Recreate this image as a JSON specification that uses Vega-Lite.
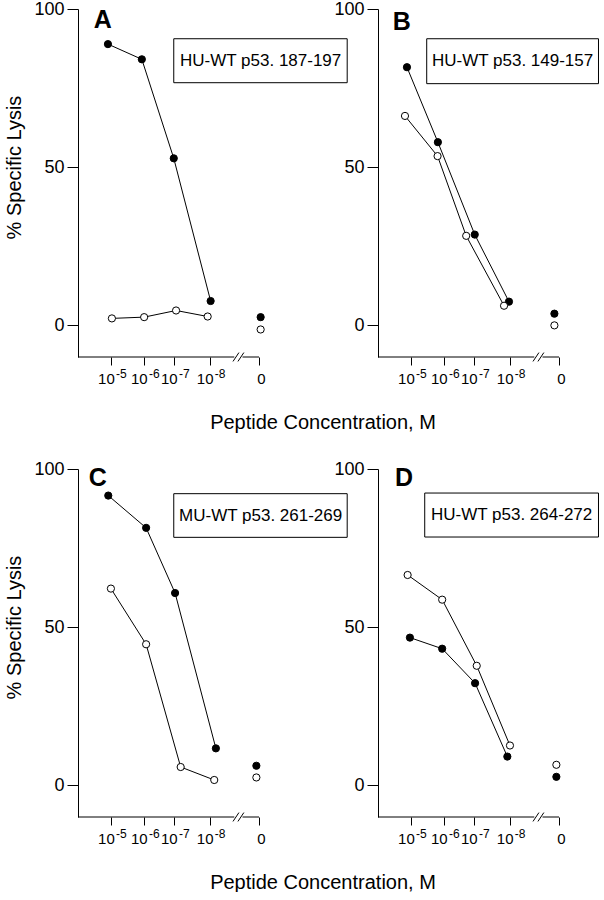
{
  "$schema": "https://vega.github.io/schema/vega-lite/v6.json",
  "padding": {"left": 4, "top": 0, "right": 0, "bottom": 0},
  "background": "white",
  "config": {"view": {"stroke": null}, "font": "Liberation Sans"},
  "datasets": {
    "pts": [
      {"panel": "A", "group": "filled", "dose": "1e-5", "xpos": 4.91, "lysis": 88.9},
      {"panel": "A", "group": "filled", "dose": "1e-6", "xpos": 5.94, "lysis": 84.1},
      {"panel": "A", "group": "filled", "dose": "1e-7", "xpos": 6.91, "lysis": 52.8},
      {"panel": "A", "group": "filled", "dose": "1e-8", "xpos": 8.03, "lysis": 7.7},
      {"panel": "A", "group": "filled", "dose": "0", "xpos": 9.55, "lysis": 2.6},
      {"panel": "A", "group": "open", "dose": "1e-5", "xpos": 5.03, "lysis": 2.2},
      {"panel": "A", "group": "open", "dose": "1e-6", "xpos": 6.01, "lysis": 2.6},
      {"panel": "A", "group": "open", "dose": "1e-7", "xpos": 6.98, "lysis": 4.7},
      {"panel": "A", "group": "open", "dose": "1e-8", "xpos": 7.94, "lysis": 2.8},
      {"panel": "A", "group": "open", "dose": "0", "xpos": 9.55, "lysis": -1.3},
      {"panel": "B", "group": "filled", "dose": "1e-5", "xpos": 4.88, "lysis": 81.6},
      {"panel": "B", "group": "filled", "dose": "1e-6", "xpos": 5.82, "lysis": 57.9},
      {"panel": "B", "group": "filled", "dose": "1e-7", "xpos": 6.94, "lysis": 28.7},
      {"panel": "B", "group": "filled", "dose": "1e-8", "xpos": 7.98, "lysis": 7.5},
      {"panel": "B", "group": "filled", "dose": "0", "xpos": 9.36, "lysis": 3.7},
      {"panel": "B", "group": "open", "dose": "1e-5", "xpos": 4.82, "lysis": 66.2},
      {"panel": "B", "group": "open", "dose": "1e-6", "xpos": 5.81, "lysis": 53.5},
      {"panel": "B", "group": "open", "dose": "1e-7", "xpos": 6.68, "lysis": 28.3},
      {"panel": "B", "group": "open", "dose": "1e-8", "xpos": 7.83, "lysis": 6.2},
      {"panel": "B", "group": "open", "dose": "0", "xpos": 9.36, "lysis": 0},
      {"panel": "C", "group": "filled", "dose": "1e-5", "xpos": 4.92, "lysis": 91.6},
      {"panel": "C", "group": "filled", "dose": "1e-6", "xpos": 6.07, "lysis": 81.4},
      {"panel": "C", "group": "filled", "dose": "1e-7", "xpos": 6.95, "lysis": 60.8},
      {"panel": "C", "group": "filled", "dose": "1e-8", "xpos": 8.19, "lysis": 11.7},
      {"panel": "C", "group": "filled", "dose": "0", "xpos": 9.42, "lysis": 6.2},
      {"panel": "C", "group": "open", "dose": "1e-5", "xpos": 5.0, "lysis": 62.2},
      {"panel": "C", "group": "open", "dose": "1e-6", "xpos": 6.07, "lysis": 44.6},
      {"panel": "C", "group": "open", "dose": "1e-7", "xpos": 7.12, "lysis": 5.8},
      {"panel": "C", "group": "open", "dose": "1e-8", "xpos": 8.14, "lysis": 1.7},
      {"panel": "C", "group": "open", "dose": "0", "xpos": 9.42, "lysis": 2.5},
      {"panel": "D", "group": "open", "dose": "1e-5", "xpos": 4.90, "lysis": 66.5},
      {"panel": "D", "group": "open", "dose": "1e-6", "xpos": 5.95, "lysis": 58.7},
      {"panel": "D", "group": "open", "dose": "1e-7", "xpos": 7.0, "lysis": 37.8},
      {"panel": "D", "group": "open", "dose": "1e-8", "xpos": 8.01, "lysis": 12.6},
      {"panel": "D", "group": "open", "dose": "0", "xpos": 9.42, "lysis": 6.5},
      {"panel": "D", "group": "filled", "dose": "1e-5", "xpos": 4.97, "lysis": 46.7},
      {"panel": "D", "group": "filled", "dose": "1e-6", "xpos": 5.95, "lysis": 43.2},
      {"panel": "D", "group": "filled", "dose": "1e-7", "xpos": 6.95, "lysis": 32.3},
      {"panel": "D", "group": "filled", "dose": "1e-8", "xpos": 7.93, "lysis": 9.1},
      {"panel": "D", "group": "filled", "dose": "0", "xpos": 9.42, "lysis": 2.7}
    ]
  },
  "columns": 2,
  "bounds": "flush",
  "spacing": {"column": 119, "row": 112},
  "concat": [
    {
      "width": 181, "height": 348,
      "resolve": {"axis": {"x": "independent"}},
      "layer": [
        {"layer": [
          {"data": {"name": "pts"}, "transform": [{"filter": "datum.panel === 'A' && datum.dose !== '0'"}],
           "mark": {"type": "line", "color": "black", "strokeWidth": 1},
           "encoding": {
             "x": {"field": "xpos", "type": "quantitative", "scale": {"domain": [4, 9.5], "nice": false, "zero": false},
                   "axis": {"values": [5, 6, 6.91, 8, 9.5], "labelExpr": "datum.value < 8.5 ? '10' : '0'",
                            "domain": false, "grid": false, "tickSize": 8, "tickColor": "black", "labelColor": "black", "labelFontSize": 15, "labelPadding": 6, "labelFlush": false, "labelOverlap": false,
                            "labelOffset": {"condition": {"test": "datum.value < 9", "value": -5}, "value": 2},
                            "title": "Peptide Concentration, M", "titleFontSize": 20, "titleFontWeight": "normal", "titleColor": "black", "titleX": 244.5, "titleY": 71, "titleBaseline": "alphabetic", "titleAlign": "center"}},
             "y": {"field": "lysis", "type": "quantitative", "scale": {"domain": [-10, 100], "nice": false, "zero": false},
                   "axis": {"values": [0, 50, 100], "grid": false, "domainColor": "black", "tickColor": "black", "labelColor": "black", "tickSize": 11, "labelPadding": 3, "labelFontSize": 18, "labelFlush": false,
                            "title": "% Specific Lysis", "titleFontSize": 20, "titleFontWeight": "normal", "titleColor": "black", "titlePadding": 9, "titleY": 158}},
             "detail": {"field": "group"}
           }},
          {"data": {"values": [{}]}, "mark": {"type": "rule", "color": "black", "strokeWidth": 1},
           "encoding": {"x": {"datum": 4, "type": "quantitative"}, "x2": {"datum": 8.75}, "y": {"datum": -10, "type": "quantitative"}}},
          {"data": {"values": [{}]}, "mark": {"type": "rule", "color": "black", "strokeWidth": 1},
           "encoding": {"x": {"datum": 9.0, "type": "quantitative"}, "x2": {"datum": 9.5}, "y": {"datum": -10, "type": "quantitative"}}},
          {"data": {"values": [{}]}, "mark": {"type": "rule", "color": "black", "strokeWidth": 1},
           "encoding": {"x": {"datum": 8.71, "type": "quantitative"}, "x2": {"datum": 8.89}, "y": {"datum": -11.4, "type": "quantitative"}, "y2": {"datum": -8.6}}},
          {"data": {"values": [{}]}, "mark": {"type": "rule", "color": "black", "strokeWidth": 1},
           "encoding": {"x": {"datum": 8.86, "type": "quantitative"}, "x2": {"datum": 9.04}, "y": {"datum": -11.4, "type": "quantitative"}, "y2": {"datum": -8.6}}},
          {"data": {"values": [{}]}, "mark": {"type": "rect", "fill": "white", "stroke": "black", "strokeWidth": 1},
           "encoding": {"x": {"datum": 6.91, "type": "quantitative"}, "x2": {"datum": 12.18}, "y": {"datum": 90.6, "type": "quantitative"}, "y2": {"datum": 76.7}}},
          {"data": {"values": [{}]}, "mark": {"type": "text", "fontSize": 17, "align": "center", "baseline": "middle", "color": "black"},
           "encoding": {"x": {"datum": 9.55, "type": "quantitative"}, "y": {"datum": 83.6, "type": "quantitative"}, "text": {"value": "HU-WT p53. 187-197"}}},
          {"data": {"values": [{}]}, "mark": {"type": "text", "fontSize": 25, "fontWeight": "bold", "align": "left", "baseline": "middle", "color": "black"},
           "encoding": {"x": {"datum": 4.48, "type": "quantitative"}, "y": {"datum": 96.6, "type": "quantitative"}, "text": {"value": "A"}}}
        ]},
        {"data": {"name": "pts"}, "transform": [{"filter": "datum.panel === 'A'"}],
         "mark": {"type": "circle", "size": 52, "stroke": "black", "strokeWidth": 1, "opacity": 1},
         "encoding": {
           "x": {"field": "xpos", "type": "quantitative",
                 "axis": {"orient": "bottom", "values": [5, 6, 6.91, 8], "labelExpr": "datum.value < 5.5 ? '-5' : datum.value < 6.5 ? '-6' : datum.value < 7.5 ? '-7' : '-8'",
                          "domain": false, "grid": false, "ticks": true, "tickSize": 8, "tickOpacity": 0, "labelColor": "black", "labelFontSize": 12, "labelPadding": 3, "labelOffset": 10, "labelFlush": false, "labelOverlap": false, "title": null}},
           "y": {"field": "lysis", "type": "quantitative"},
           "fill": {"field": "group", "type": "nominal", "scale": {"domain": ["filled", "open"], "range": ["black", "white"]}, "legend": null}
         }}
      ]
    },
    {
      "width": 181, "height": 348,
      "resolve": {"axis": {"x": "independent"}},
      "layer": [
        {"layer": [
          {"data": {"name": "pts"}, "transform": [{"filter": "datum.panel === 'B' && datum.dose !== '0'"}],
           "mark": {"type": "line", "color": "black", "strokeWidth": 1},
           "encoding": {
             "x": {"field": "xpos", "type": "quantitative", "scale": {"domain": [4, 9.5], "nice": false, "zero": false},
                   "axis": {"values": [5, 6, 6.91, 8, 9.5], "labelExpr": "datum.value < 8.5 ? '10' : '0'",
                            "domain": false, "grid": false, "tickSize": 8, "tickColor": "black", "labelColor": "black", "labelFontSize": 15, "labelPadding": 6, "labelFlush": false, "labelOverlap": false,
                            "labelOffset": {"condition": {"test": "datum.value < 9", "value": -5}, "value": 2}, "title": null}},
             "y": {"field": "lysis", "type": "quantitative", "scale": {"domain": [-10, 100], "nice": false, "zero": false},
                   "axis": {"values": [0, 50, 100], "grid": false, "domainColor": "black", "tickColor": "black", "labelColor": "black", "tickSize": 11, "labelPadding": 3, "labelFontSize": 18, "labelFlush": false, "title": null}},
             "detail": {"field": "group"}
           }},
          {"data": {"values": [{}]}, "mark": {"type": "rule", "color": "black", "strokeWidth": 1},
           "encoding": {"x": {"datum": 4, "type": "quantitative"}, "x2": {"datum": 8.75}, "y": {"datum": -10, "type": "quantitative"}}},
          {"data": {"values": [{}]}, "mark": {"type": "rule", "color": "black", "strokeWidth": 1},
           "encoding": {"x": {"datum": 9.0, "type": "quantitative"}, "x2": {"datum": 9.5}, "y": {"datum": -10, "type": "quantitative"}}},
          {"data": {"values": [{}]}, "mark": {"type": "rule", "color": "black", "strokeWidth": 1},
           "encoding": {"x": {"datum": 8.71, "type": "quantitative"}, "x2": {"datum": 8.89}, "y": {"datum": -11.4, "type": "quantitative"}, "y2": {"datum": -8.6}}},
          {"data": {"values": [{}]}, "mark": {"type": "rule", "color": "black", "strokeWidth": 1},
           "encoding": {"x": {"datum": 8.86, "type": "quantitative"}, "x2": {"datum": 9.04}, "y": {"datum": -11.4, "type": "quantitative"}, "y2": {"datum": -8.6}}},
          {"data": {"values": [{}]}, "mark": {"type": "rect", "fill": "white", "stroke": "black", "strokeWidth": 1},
           "encoding": {"x": {"datum": 5.48, "type": "quantitative"}, "x2": {"datum": 10.7}, "y": {"datum": 90.6, "type": "quantitative"}, "y2": {"datum": 76.4}}},
          {"data": {"values": [{}]}, "mark": {"type": "text", "fontSize": 17, "align": "center", "baseline": "middle", "color": "black"},
           "encoding": {"x": {"datum": 8.09, "type": "quantitative"}, "y": {"datum": 83.5, "type": "quantitative"}, "text": {"value": "HU-WT p53. 149-157"}}},
          {"data": {"values": [{}]}, "mark": {"type": "text", "fontSize": 25, "fontWeight": "bold", "align": "left", "baseline": "middle", "color": "black"},
           "encoding": {"x": {"datum": 4.45, "type": "quantitative"}, "y": {"datum": 95.8, "type": "quantitative"}, "text": {"value": "B"}}}
        ]},
        {"data": {"name": "pts"}, "transform": [{"filter": "datum.panel === 'B'"}],
         "mark": {"type": "circle", "size": 52, "stroke": "black", "strokeWidth": 1, "opacity": 1},
         "encoding": {
           "x": {"field": "xpos", "type": "quantitative",
                 "axis": {"orient": "bottom", "values": [5, 6, 6.91, 8], "labelExpr": "datum.value < 5.5 ? '-5' : datum.value < 6.5 ? '-6' : datum.value < 7.5 ? '-7' : '-8'",
                          "domain": false, "grid": false, "ticks": true, "tickSize": 8, "tickOpacity": 0, "labelColor": "black", "labelFontSize": 12, "labelPadding": 3, "labelOffset": 10, "labelFlush": false, "labelOverlap": false, "title": null}},
           "y": {"field": "lysis", "type": "quantitative"},
           "fill": {"field": "group", "type": "nominal", "scale": {"domain": ["filled", "open"], "range": ["black", "white"]}, "legend": null}
         }}
      ]
    },
    {
      "width": 181, "height": 348,
      "resolve": {"axis": {"x": "independent"}},
      "layer": [
        {"layer": [
          {"data": {"name": "pts"}, "transform": [{"filter": "datum.panel === 'C' && datum.dose !== '0'"}],
           "mark": {"type": "line", "color": "black", "strokeWidth": 1},
           "encoding": {
             "x": {"field": "xpos", "type": "quantitative", "scale": {"domain": [4, 9.5], "nice": false, "zero": false},
                   "axis": {"values": [5, 6, 6.91, 8, 9.5], "labelExpr": "datum.value < 8.5 ? '10' : '0'",
                            "domain": false, "grid": false, "tickSize": 8, "tickColor": "black", "labelColor": "black", "labelFontSize": 15, "labelPadding": 6, "labelFlush": false, "labelOverlap": false,
                            "labelOffset": {"condition": {"test": "datum.value < 9", "value": -5}, "value": 2},
                            "title": "Peptide Concentration, M", "titleFontSize": 20, "titleFontWeight": "normal", "titleColor": "black", "titleX": 244.5, "titleY": 71, "titleBaseline": "alphabetic", "titleAlign": "center"}},
             "y": {"field": "lysis", "type": "quantitative", "scale": {"domain": [-10, 100], "nice": false, "zero": false},
                   "axis": {"values": [0, 50, 100], "grid": false, "domainColor": "black", "tickColor": "black", "labelColor": "black", "tickSize": 11, "labelPadding": 3, "labelFontSize": 18, "labelFlush": false,
                            "title": "% Specific Lysis", "titleFontSize": 20, "titleFontWeight": "normal", "titleColor": "black", "titlePadding": 9, "titleY": 158}},
             "detail": {"field": "group"}
           }},
          {"data": {"values": [{}]}, "mark": {"type": "rule", "color": "black", "strokeWidth": 1},
           "encoding": {"x": {"datum": 4, "type": "quantitative"}, "x2": {"datum": 8.75}, "y": {"datum": -10, "type": "quantitative"}}},
          {"data": {"values": [{}]}, "mark": {"type": "rule", "color": "black", "strokeWidth": 1},
           "encoding": {"x": {"datum": 9.0, "type": "quantitative"}, "x2": {"datum": 9.5}, "y": {"datum": -10, "type": "quantitative"}}},
          {"data": {"values": [{}]}, "mark": {"type": "rule", "color": "black", "strokeWidth": 1},
           "encoding": {"x": {"datum": 8.71, "type": "quantitative"}, "x2": {"datum": 8.89}, "y": {"datum": -11.4, "type": "quantitative"}, "y2": {"datum": -8.6}}},
          {"data": {"values": [{}]}, "mark": {"type": "rule", "color": "black", "strokeWidth": 1},
           "encoding": {"x": {"datum": 8.86, "type": "quantitative"}, "x2": {"datum": 9.04}, "y": {"datum": -11.4, "type": "quantitative"}, "y2": {"datum": -8.6}}},
          {"data": {"values": [{}]}, "mark": {"type": "rect", "fill": "white", "stroke": "black", "strokeWidth": 1},
           "encoding": {"x": {"datum": 6.91, "type": "quantitative"}, "x2": {"datum": 12.18}, "y": {"datum": 92.2, "type": "quantitative"}, "y2": {"datum": 78.4}}},
          {"data": {"values": [{}]}, "mark": {"type": "text", "fontSize": 17, "align": "center", "baseline": "middle", "color": "black"},
           "encoding": {"x": {"datum": 9.55, "type": "quantitative"}, "y": {"datum": 85.3, "type": "quantitative"}, "text": {"value": "MU-WT p53. 261-269"}}},
          {"data": {"values": [{}]}, "mark": {"type": "text", "fontSize": 25, "fontWeight": "bold", "align": "left", "baseline": "middle", "color": "black"},
           "encoding": {"x": {"datum": 4.33, "type": "quantitative"}, "y": {"datum": 97, "type": "quantitative"}, "text": {"value": "C"}}}
        ]},
        {"data": {"name": "pts"}, "transform": [{"filter": "datum.panel === 'C'"}],
         "mark": {"type": "circle", "size": 52, "stroke": "black", "strokeWidth": 1, "opacity": 1},
         "encoding": {
           "x": {"field": "xpos", "type": "quantitative",
                 "axis": {"orient": "bottom", "values": [5, 6, 6.91, 8], "labelExpr": "datum.value < 5.5 ? '-5' : datum.value < 6.5 ? '-6' : datum.value < 7.5 ? '-7' : '-8'",
                          "domain": false, "grid": false, "ticks": true, "tickSize": 8, "tickOpacity": 0, "labelColor": "black", "labelFontSize": 12, "labelPadding": 3, "labelOffset": 10, "labelFlush": false, "labelOverlap": false, "title": null}},
           "y": {"field": "lysis", "type": "quantitative"},
           "fill": {"field": "group", "type": "nominal", "scale": {"domain": ["filled", "open"], "range": ["black", "white"]}, "legend": null}
         }}
      ]
    },
    {
      "width": 181, "height": 348,
      "resolve": {"axis": {"x": "independent"}},
      "layer": [
        {"layer": [
          {"data": {"name": "pts"}, "transform": [{"filter": "datum.panel === 'D' && datum.dose !== '0'"}],
           "mark": {"type": "line", "color": "black", "strokeWidth": 1},
           "encoding": {
             "x": {"field": "xpos", "type": "quantitative", "scale": {"domain": [4, 9.5], "nice": false, "zero": false},
                   "axis": {"values": [5, 6, 6.91, 8, 9.5], "labelExpr": "datum.value < 8.5 ? '10' : '0'",
                            "domain": false, "grid": false, "tickSize": 8, "tickColor": "black", "labelColor": "black", "labelFontSize": 15, "labelPadding": 6, "labelFlush": false, "labelOverlap": false,
                            "labelOffset": {"condition": {"test": "datum.value < 9", "value": -5}, "value": 2}, "title": null}},
             "y": {"field": "lysis", "type": "quantitative", "scale": {"domain": [-10, 100], "nice": false, "zero": false},
                   "axis": {"values": [0, 50, 100], "grid": false, "domainColor": "black", "tickColor": "black", "labelColor": "black", "tickSize": 11, "labelPadding": 3, "labelFontSize": 18, "labelFlush": false, "title": null}},
             "detail": {"field": "group"}
           }},
          {"data": {"values": [{}]}, "mark": {"type": "rule", "color": "black", "strokeWidth": 1},
           "encoding": {"x": {"datum": 4, "type": "quantitative"}, "x2": {"datum": 8.75}, "y": {"datum": -10, "type": "quantitative"}}},
          {"data": {"values": [{}]}, "mark": {"type": "rule", "color": "black", "strokeWidth": 1},
           "encoding": {"x": {"datum": 9.0, "type": "quantitative"}, "x2": {"datum": 9.5}, "y": {"datum": -10, "type": "quantitative"}}},
          {"data": {"values": [{}]}, "mark": {"type": "rule", "color": "black", "strokeWidth": 1},
           "encoding": {"x": {"datum": 8.71, "type": "quantitative"}, "x2": {"datum": 8.89}, "y": {"datum": -11.4, "type": "quantitative"}, "y2": {"datum": -8.6}}},
          {"data": {"values": [{}]}, "mark": {"type": "rule", "color": "black", "strokeWidth": 1},
           "encoding": {"x": {"datum": 8.86, "type": "quantitative"}, "x2": {"datum": 9.04}, "y": {"datum": -11.4, "type": "quantitative"}, "y2": {"datum": -8.6}}},
          {"data": {"values": [{}]}, "mark": {"type": "rect", "fill": "white", "stroke": "black", "strokeWidth": 1},
           "encoding": {"x": {"datum": 5.42, "type": "quantitative"}, "x2": {"datum": 10.7}, "y": {"datum": 92.4, "type": "quantitative"}, "y2": {"datum": 78.5}}},
          {"data": {"values": [{}]}, "mark": {"type": "text", "fontSize": 17, "align": "center", "baseline": "middle", "color": "black"},
           "encoding": {"x": {"datum": 8.06, "type": "quantitative"}, "y": {"datum": 85.5, "type": "quantitative"}, "text": {"value": "HU-WT p53. 264-272"}}},
          {"data": {"values": [{}]}, "mark": {"type": "text", "fontSize": 25, "fontWeight": "bold", "align": "left", "baseline": "middle", "color": "black"},
           "encoding": {"x": {"datum": 4.52, "type": "quantitative"}, "y": {"datum": 97.3, "type": "quantitative"}, "text": {"value": "D"}}}
        ]},
        {"data": {"name": "pts"}, "transform": [{"filter": "datum.panel === 'D'"}],
         "mark": {"type": "circle", "size": 52, "stroke": "black", "strokeWidth": 1, "opacity": 1},
         "encoding": {
           "x": {"field": "xpos", "type": "quantitative",
                 "axis": {"orient": "bottom", "values": [5, 6, 6.91, 8], "labelExpr": "datum.value < 5.5 ? '-5' : datum.value < 6.5 ? '-6' : datum.value < 7.5 ? '-7' : '-8'",
                          "domain": false, "grid": false, "ticks": true, "tickSize": 8, "tickOpacity": 0, "labelColor": "black", "labelFontSize": 12, "labelPadding": 3, "labelOffset": 10, "labelFlush": false, "labelOverlap": false, "title": null}},
           "y": {"field": "lysis", "type": "quantitative"},
           "fill": {"field": "group", "type": "nominal", "scale": {"domain": ["filled", "open"], "range": ["black", "white"]}, "legend": null}
         }}
      ]
    }
  ]
}
